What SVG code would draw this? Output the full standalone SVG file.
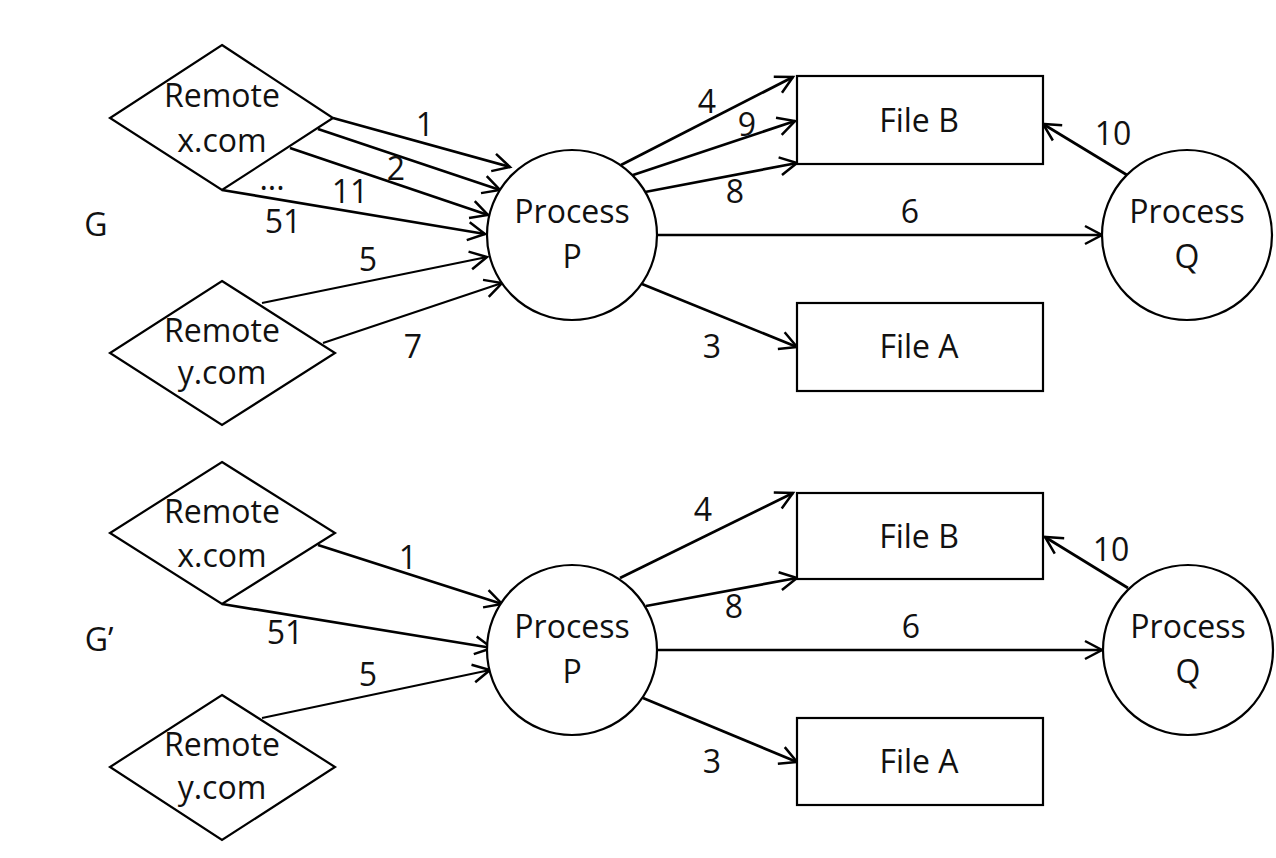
<svg xmlns="http://www.w3.org/2000/svg" width="1276" height="858" viewBox="0 0 1276 858">
<style>
.shape{fill:#fff;stroke:#000;stroke-width:2.2}
.t{font-family:"Open Sans","Liberation Sans",sans-serif;font-size:32px;fill:#111;text-anchor:middle}
.e{stroke:#000;stroke-width:2.7;fill:none;marker-end:url(#arr)}
.thin{stroke-width:2.1}
</style>
<defs>
<marker id="arr" markerUnits="userSpaceOnUse" markerWidth="24" markerHeight="24" viewBox="-20 -12 24 24" refX="0" refY="0" orient="auto">
<path d="M-17,-9 L0,0 L-17,9" fill="none" stroke="#000" stroke-width="2.5"/>
</marker>
</defs>
<rect width="1276" height="858" fill="#fff"/>

<g id="connectors">
<line class="e" x1="333" y1="118" x2="510" y2="167"/>
<line class="e" x1="318" y1="129" x2="500" y2="190"/>
<line class="e" x1="290" y1="148" x2="488" y2="215"/>
<line class="e" x1="222" y1="190" x2="485" y2="234"/>
<line class="e thin" x1="262" y1="303" x2="487" y2="257"/>
<line class="e thin" x1="323" y1="343" x2="502" y2="283"/>
<line class="e" x1="621" y1="165" x2="793" y2="77"/>
<line class="e" x1="633" y1="175" x2="795" y2="121"/>
<line class="e" x1="645" y1="192" x2="797" y2="163"/>
<line class="e" x1="657" y1="235" x2="1102" y2="235"/>
<line class="e" x1="642" y1="284" x2="797" y2="347"/>
<line class="e" x1="1127" y1="175" x2="1043" y2="124"/>

<line class="e" x1="318" y1="545" x2="502" y2="604"/>
<line class="e" x1="222" y1="604" x2="492" y2="648"/>
<line class="e thin" x1="262" y1="718" x2="490" y2="670"/>
<line class="e" x1="620" y1="578" x2="793" y2="493"/>
<line class="e" x1="646" y1="606" x2="797" y2="578"/>
<line class="e" x1="657" y1="650" x2="1102" y2="650"/>
<line class="e" x1="643" y1="698" x2="797" y2="762"/>
<line class="e" x1="1128" y1="588" x2="1045" y2="537"/>
</g>

<g id="edge-labels">
<text class="t" x="425" y="136">1</text>
<text class="t" x="396" y="180">2</text>
<text class="t" x="350" y="203">11</text>
<text class="t" x="272" y="190">...</text>
<text class="t" x="283" y="233">51</text>
<text class="t" x="368" y="271">5</text>
<text class="t" x="413" y="358">7</text>
<text class="t" x="707" y="113">4</text>
<text class="t" x="747" y="136">9</text>
<text class="t" x="735" y="203">8</text>
<text class="t" x="910" y="223">6</text>
<text class="t" x="712" y="358">3</text>
<text class="t" x="1113" y="145">10</text>

<text class="t" x="408" y="569">1</text>
<text class="t" x="285" y="644">51</text>
<text class="t" x="368" y="686">5</text>
<text class="t" x="703" y="521">4</text>
<text class="t" x="734" y="618">8</text>
<text class="t" x="911" y="638">6</text>
<text class="t" x="712" y="773">3</text>
<text class="t" x="1111" y="561">10</text>
</g>

<g id="label-G"><text class="t" x="96" y="236">G</text></g>
<g id="label-G2"><text class="t" x="99" y="651">G’</text></g>

<g id="remote-x-top">
<polygon class="shape" points="222,45 333,118 222,190 110,118"/>
<text class="t" x="222" y="107">Remote</text>
<text class="t" x="222" y="152">x.com</text>
</g>
<g id="remote-y-top">
<polygon class="shape" points="222,281 335,353 222,425 110,353"/>
<text class="t" x="222" y="342">Remote</text>
<text class="t" x="222" y="384">y.com</text>
</g>
<g id="process-p-top">
<circle class="shape" cx="572" cy="235" r="85"/>
<text class="t" x="572" y="223">Process</text>
<text class="t" x="572" y="268">P</text>
</g>
<g id="file-b-top">
<rect class="shape" x="797" y="76" width="246" height="88"/>
<text class="t" x="919" y="132">File B</text>
</g>
<g id="file-a-top">
<rect class="shape" x="797" y="303" width="246" height="88"/>
<text class="t" x="919" y="358">File A</text>
</g>
<g id="process-q-top">
<circle class="shape" cx="1187" cy="235" r="85"/>
<text class="t" x="1187" y="223">Process</text>
<text class="t" x="1187" y="268">Q</text>
</g>

<g id="remote-x-bottom">
<polygon class="shape" points="222,462 335,533 222,604 110,533"/>
<text class="t" x="222" y="523">Remote</text>
<text class="t" x="222" y="567">x.com</text>
</g>
<g id="remote-y-bottom">
<polygon class="shape" points="222,695 335,767 222,840 110,767"/>
<text class="t" x="222" y="756">Remote</text>
<text class="t" x="222" y="799">y.com</text>
</g>
<g id="process-p-bottom">
<circle class="shape" cx="572" cy="650" r="85"/>
<text class="t" x="572" y="638">Process</text>
<text class="t" x="572" y="683">P</text>
</g>
<g id="file-b-bottom">
<rect class="shape" x="797" y="493" width="246" height="86"/>
<text class="t" x="919" y="548">File B</text>
</g>
<g id="file-a-bottom">
<rect class="shape" x="797" y="718" width="246" height="87"/>
<text class="t" x="919" y="773">File A</text>
</g>
<g id="process-q-bottom">
<circle class="shape" cx="1188" cy="650" r="85"/>
<text class="t" x="1188" y="638">Process</text>
<text class="t" x="1188" y="683">Q</text>
</g>
</svg>
